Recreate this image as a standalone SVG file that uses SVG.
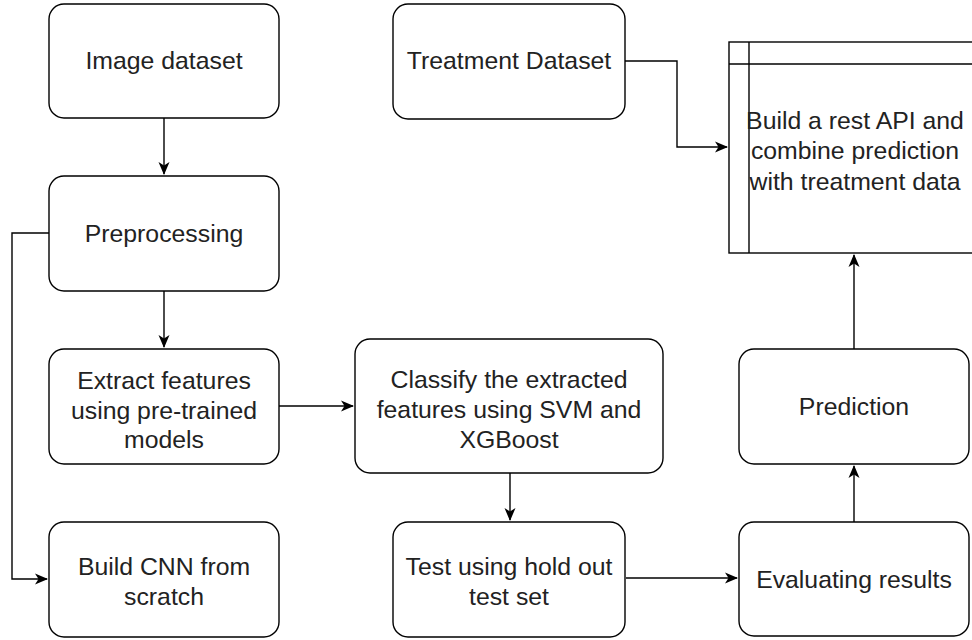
<svg xmlns="http://www.w3.org/2000/svg" width="972" height="640" viewBox="0 0 972 640">
<style>
.box{fill:#fff;stroke:#000;stroke-width:1.4}
.t{font-family:"Liberation Sans",Arial,sans-serif;font-size:24.8px;fill:#222;text-anchor:middle}
.c{fill:none;stroke:#000;stroke-width:1.4}
</style>
<defs>
<marker id="a" markerWidth="14" markerHeight="12" refX="12" refY="6" orient="auto" markerUnits="userSpaceOnUse">
<path d="M0,0.5 L13,6 L0,11.5 L3.5,6 Z" fill="#000"/>
</marker>
</defs>
<rect width="972" height="640" fill="#fff"/>
<g id="connectors">
<path class="c" d="M164,118 V174" marker-end="url(#a)"/>
<path class="c" d="M164,291 V347" marker-end="url(#a)"/>
<path class="c" d="M49,233 H12 V579 H47" marker-end="url(#a)"/>
<path class="c" d="M279,406 H353" marker-end="url(#a)"/>
<path class="c" d="M510,473 V520" marker-end="url(#a)"/>
<path class="c" d="M626,578 H737" marker-end="url(#a)"/>
<path class="c" d="M854,522 V466" marker-end="url(#a)"/>
<path class="c" d="M854,349 V255" marker-end="url(#a)"/>
<path class="c" d="M625,61 H677 V147 H727" marker-end="url(#a)"/>
</g>
<g id="image-dataset">
<rect class="box" x="49" y="4" width="230" height="114" rx="15"/>
<text class="t" x="164" y="69">Image dataset</text>
</g>
<g id="treatment-dataset">
<rect class="box" x="393" y="4" width="232" height="115" rx="15"/>
<text class="t" x="509" y="69">Treatment Dataset</text>
</g>
<g id="rest-api">
<rect class="box" x="729" y="42" width="252" height="211"/>
<line class="c" x1="749" y1="42" x2="749" y2="253"/>
<line class="c" x1="729" y1="64" x2="981" y2="64"/>
<text class="t" x="855" y="129">Build a rest API and</text>
<text class="t" x="855" y="159">combine prediction</text>
<text class="t" x="855" y="190">with treatment data</text>
</g>
<g id="preprocessing">
<rect class="box" x="49" y="176" width="230" height="115" rx="15"/>
<text class="t" x="164" y="242">Preprocessing</text>
</g>
<g id="extract-features">
<rect class="box" x="49" y="349" width="230" height="115" rx="15"/>
<text class="t" x="164" y="389">Extract features</text>
<text class="t" x="164" y="419">using pre-trained</text>
<text class="t" x="164" y="448">models</text>
</g>
<g id="classify">
<rect class="box" x="355" y="339" width="308" height="134" rx="15"/>
<text class="t" x="509" y="388">Classify the extracted</text>
<text class="t" x="509" y="418">features using SVM and</text>
<text class="t" x="509" y="448">XGBoost</text>
</g>
<g id="prediction">
<rect class="box" x="739" y="349" width="230" height="115" rx="15"/>
<text class="t" x="854" y="415">Prediction</text>
</g>
<g id="build-cnn">
<rect class="box" x="49" y="522" width="230" height="115" rx="15"/>
<text class="t" x="164" y="575">Build CNN from</text>
<text class="t" x="164" y="605">scratch</text>
</g>
<g id="test-holdout">
<rect class="box" x="393" y="522" width="232" height="115" rx="15"/>
<text class="t" x="509" y="575">Test using hold out</text>
<text class="t" x="509" y="605">test set</text>
</g>
<g id="evaluating">
<rect class="box" x="739" y="522" width="230" height="114" rx="15"/>
<text class="t" x="854" y="588">Evaluating results</text>
</g>
</svg>
